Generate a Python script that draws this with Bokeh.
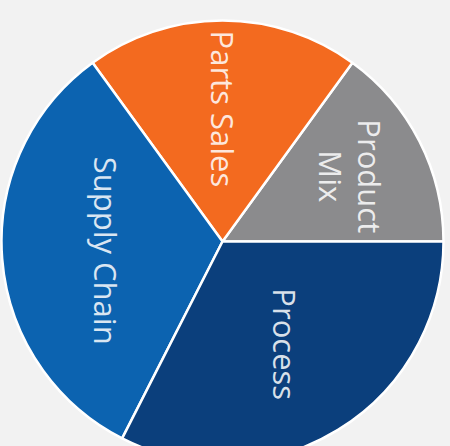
import math
from bokeh.plotting import figure
from bokeh.models import Range1d, ColumnDataSource
from bokeh.core.properties import value
from bokeh.embed import file_html
from bokeh.resources import INLINE

# ---- data ----
categories = ["Product\nMix", "Parts Sales", "Supply Chain", "Process"]
shares = [15.0, 20.0, 32.5, 32.5]
colors = ["#8b8b8d", "#f36a1f", "#0c63b0", "#0b3f7c"]

# ---- layout ----
W, H = 450, 446
cx, cy, R = 222, 205, 221           # pie centre / radius in plot pixels (y up)
label_r = [0.65, 0.60, 0.53, 0.545]  # label distance as fraction of radius

total = sum(shares)
starts, ends, mids = [], [], []
a = 0.0
for s in shares:
    da = 2 * math.pi * s / total
    starts.append(a)
    ends.append(a + da)
    mids.append(a + da / 2)
    a += da

lx = [cx + f * R * math.cos(m) for f, m in zip(label_r, mids)]
ly = [cy + f * R * math.sin(m) for f, m in zip(label_r, mids)]

src = ColumnDataSource(dict(start=starts, end=ends, color=colors,
                            label=categories, lx=lx, ly=ly))

p = figure(width=W, height=H, output_backend="svg", toolbar_location=None,
           x_range=Range1d(0, W), y_range=Range1d(0, H), min_border=0,
           background_fill_color="#f2f2f2", border_fill_color="#f2f2f2")
p.outline_line_color = None
p.axis.visible = False
p.grid.visible = False

p.wedge(x=cx, y=cy, radius=R, start_angle="start", end_angle="end",
        fill_color="color", line_color="white", line_width=2.5, source=src)

p.text(x="lx", y="ly", text="label", source=src, angle=-math.pi / 2,
       text_align="center", text_baseline="middle",
       text_font=value("Open Sans"), text_font_size="31px",
       text_color="white", text_alpha=0.85, text_line_height=0.95)

html = file_html(p, INLINE)
html = html.replace("</head>",
                    "<style>html,body{margin:0;padding:0;background:#f2f2f2;"
                    "overflow:hidden}</style></head>", 1)
open("out.html", "w").write(html)
